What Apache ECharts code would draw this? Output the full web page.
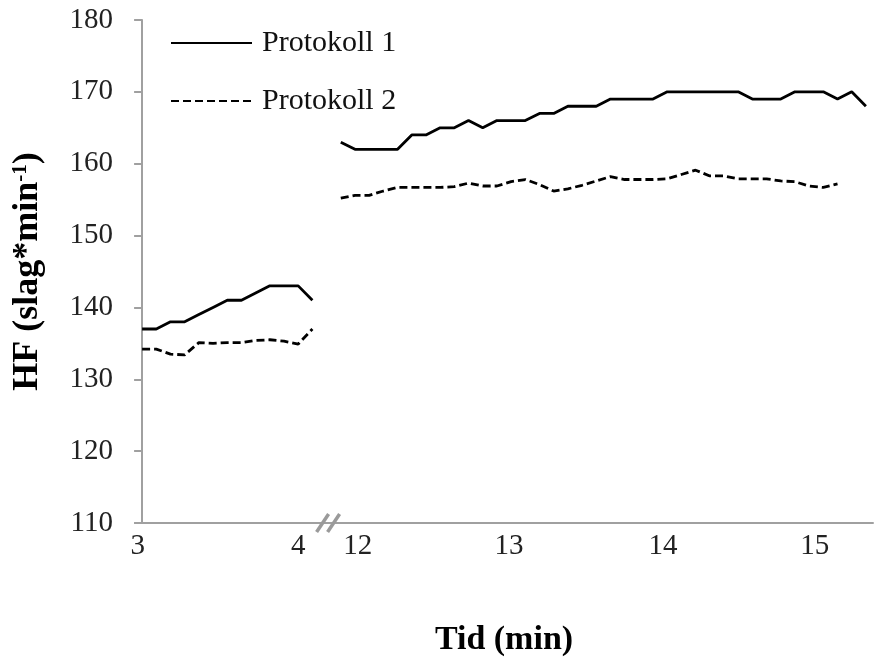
<!DOCTYPE html>
<html>
<head>
<meta charset="utf-8">
<script src="https://cdn.jsdelivr.net/npm/echarts@6/dist/echarts.min.js"></script>
<style>
  html, body { margin: 0; padding: 0; background: #fff; }
  #chart { width: 892px; height: 662px; }
</style>
</head>
<body>
<div id="chart"></div>
<script>
// samples before the break (3-4 min) and after it (12-15 min)
const p1Early = [137, 137, 138, 138, 139, 140, 141, 141, 142, 143, 143, 143, 141]
const p1Late = [163, 162, 162, 162, 162, 164, 164, 165, 165, 166, 165, 166, 166, 166, 167, 167, 168, 168, 168,
  169, 169, 169, 169, 170, 170, 170, 170, 170, 170, 169, 169, 169, 170, 170, 170, 169, 170, 168]
const p2Early = [134.2, 134.2, 133.5, 133.4, 135.1, 135.0, 135.1, 135.1, 135.4, 135.5, 135.3, 134.9, 137.0]
const p2Late = [155.2, 155.6, 155.6, 156.2, 156.7, 156.7, 156.7, 156.7, 156.8, 157.3, 156.9, 156.9, 157.5, 157.8,
  157.1, 156.2, 156.5, 157.0, 157.6, 158.2, 157.8, 157.8, 157.8, 157.9, 158.5, 159.1, 158.3, 158.3, 157.9,
  157.9, 157.9, 157.6, 157.5, 156.9, 156.7, 157.2]

const protokoll1 = [...p1Early, null, ...p1Late]
const protokoll2 = [...p2Early, null, ...p2Late, null, null]
const samples = protokoll1.map((_, i) => String(i + 1))

// x tick labels sit at fractional sample positions
const tickLabels = ['3', '4', '12', '13', '14', '15']
const tickAt = [-0.3, 11.0, 15.2, 25.85, 36.7, 47.4]

const gapIndex = p1Early.length
const serif = '"Liberation Serif", "Times New Roman", serif'

const chart = echarts.init(document.getElementById('chart'))

chart.setOption({
  animation: false,
  backgroundColor: '#fff',
  textStyle: { fontFamily: serif },
  grid: { left: 135, right: 19, top: 20, bottom: 139, containLabel: false },
  legend: {
    orient: 'vertical',
    left: 165,
    top: 23,
    itemWidth: 81,
    itemHeight: 30,
    itemGap: 28,
    data: ['Protokoll 1', 'Protokoll 2'],
    itemStyle: { opacity: 0 },
    textStyle: { fontFamily: serif, fontSize: 30, lineHeight: 30, color: '#111', padding: [0, 0, 0, 5] }
  },
  xAxis: [
    {
      type: 'category',
      data: samples,
      boundaryGap: true,
      axisLine: { lineStyle: { color: '#a0a0a0', width: 2 } },
      axisTick: { show: false },
      axisLabel: { show: false },
      splitLine: { show: false },
      name: 'Tid (min)',
      nameLocation: 'middle',
      nameGap: 100,
      nameTextStyle: { fontFamily: serif, fontSize: 34, fontWeight: 'bold', color: '#000' }
    },
    {
      type: 'value',
      position: 'bottom',
      min: -0.5,
      max: samples.length - 0.5,
      axisLine: { show: false },
      axisTick: { show: false },
      splitLine: { show: false },
      axisLabel: {
        customValues: tickAt,
        formatter: v => tickLabels[tickAt.indexOf(v)] ?? '',
        fontFamily: serif,
        fontSize: 29,
        color: '#222',
        margin: 9
      }
    }
  ],
  yAxis: {
    type: 'value',
    min: 110,
    max: 180,
    interval: 10,
    axisLine: { show: true, lineStyle: { color: '#a0a0a0', width: 2 } },
    axisTick: { show: true, length: 8, lineStyle: { color: '#a0a0a0', width: 2 } },
    splitLine: { show: false },
    axisLabel: { fontFamily: serif, fontSize: 29, color: '#222', margin: 22 },
    name: '{b|HF (slag*min}{sup|-1}{b|)}',
    nameLocation: 'middle',
    nameRotate: 90,
    nameGap: 89,
    nameTextStyle: {
      rich: {
        b: { fontFamily: serif, fontSize: 36, fontWeight: 'bold', color: '#000' },
        sup: { fontFamily: serif, fontSize: 21, fontWeight: 'bold', color: '#000', verticalAlign: 'top', padding: [0, 0, 15, 0] }
      }
    }
  },
  series: [
    {
      name: 'Protokoll 1',
      type: 'line',
      data: protokoll1,
      symbol: 'none',
      color: '#000',
      lineStyle: { color: '#000', width: 2.8 }
    },
    {
      name: 'Protokoll 2',
      type: 'line',
      data: protokoll2,
      symbol: 'none',
      color: '#000',
      lineStyle: { color: '#000', width: 2.8, type: [8, 4] }
    }
  ]
})

// axis break marks "//" at the gap between the two time windows
const bx = chart.convertToPixel({ xAxisIndex: 0 }, gapIndex)
const by = chart.convertToPixel({ yAxisIndex: 0 }, 110)
const breakStyle = { stroke: '#9a9a9a', lineWidth: 3.5 }
chart.setOption({
  graphic: [
    { type: 'line', shape: { x1: bx - 10, y1: by + 9, x2: bx + 2, y2: by - 9 }, style: breakStyle, z: 100 },
    { type: 'line', shape: { x1: bx + 1, y1: by + 9, x2: bx + 13, y2: by - 9 }, style: breakStyle, z: 100 }
  ]
})
</script>
</body>
</html>
